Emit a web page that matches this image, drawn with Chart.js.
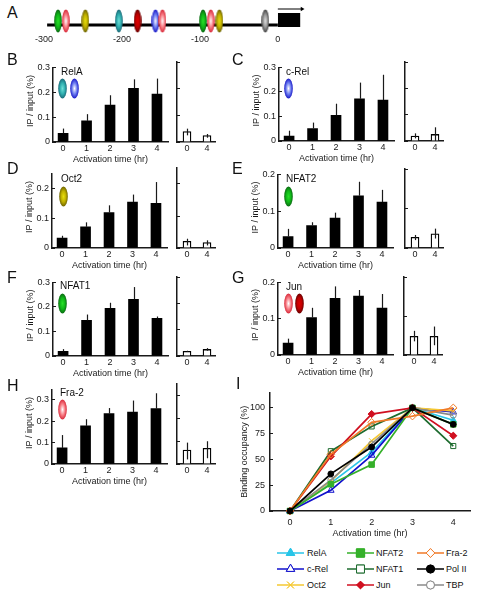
<!DOCTYPE html>
<html><head><meta charset="utf-8">
<script src="https://cdn.jsdelivr.net/npm/chart.js@4"></script>
<style>
html,body{margin:0;padding:0;background:#fff;}
#page{position:relative;width:480px;height:600px;overflow:hidden;font-family:"Liberation Sans",Arial,sans-serif;color:#111;}
#page canvas{position:absolute;}
.letter{position:absolute;font-size:16px;line-height:16px;}
.name{position:absolute;font-size:10px;line-height:12px;}
.leg{position:absolute;font-size:9px;line-height:12px;}
</style></head><body><div id="page"></div>
<script>
// ---- data ----
const hours=[0,1,2,3,4];
const subHours=[0,4];
const siteNames=['NFAT','Fra','Oct','RelA','Jun','cRel','Fra','NFAT','Fra','Oct','TBP'];
const sitePos=[-282,-272,-247,-204,-180,-157,-148,-96,-86,-75,-16];
const promoterTicks=[-300,-200,-100,0];

const bVals=[.035,.085,.148,.216,.193], bHi=[.054,.112,.188,.252,.255];
const bSub=[.039,.024], bSubHi=[.05,.03], bSubLo=[.025,.016];
const cVals=[.02,.051,.105,.172,.167], cHi=[.042,.075,.152,.238,.27];
const cSub=[.019,.025], cSubHi=[.029,.052], cSubLo=[.01,0];
const dVals=[.033,.071,.119,.154,.15], dHi=[.041,.086,.143,.179,.221];
const dSub=[.021,.017], dSubHi=[.029,.024], dSubLo=[.008,.008];
const eVals=[.031,.061,.081,.142,.125], eHi=[.052,.07,.096,.18,.158];
const eSub=[.027,.036], eSubHi=[.033,.049], eSubLo=[.02,.024];
const fVals=[.019,.145,.194,.231,.154], fHi=[.028,.169,.217,.281,.161];
const fSub=[.018,.025], fSubHi=[.02,.03], fSubLo=[.016,.02];
const gVals=[.033,.103,.156,.162,.129], gHi=[.045,.13,.189,.179,.168];
const gSub=[.048,.048], gSubHi=[.062,.073], gSubLo=[.035,.025];
const hVals=[.075,.178,.235,.242,.258], hHi=[.135,.209,.261,.296,.33];
const hSub=[.061,.068], hSubHi=[.093,.099], hSubLo=[.02,.025];

const ticks3=[0,.1,.2,.3], ticks2=[0,.1,.2];

const occNames=['RelA','c-Rel','Oct2','TBP','NFAT2','NFAT1','Jun','Fra-2','Pol II'];
const occRelA=[0,27,57,100,88];
const occCRel=[0,20,54,100,96];
const occOct2=[0,29,68,100,97];
const occTBP=[0,30,65,100,93];
const occNFAT2=[0,26,45,100,84];
const occNFAT1=[0,58,82,100,63];
const occJun=[0,53,94,100,73];
const occFra2=[0,55,86,92,100];
const occPol=[0,36,62,100,84];
const occTicks=[0,25,50,75,100];

// ---- styles ----
const INK='#1a1a1a';
const FONT='"Liberation Sans",Arial,sans-serif';
Chart.defaults.font.family=FONT; Chart.defaults.font.size=9; Chart.defaults.color=INK;
Chart.defaults.animation=false;
const page=document.getElementById('page');

function ellipse(inner,mid,outer,W,H){
  const c=document.createElement('canvas');
  c.width=W;c.height=H;
  const g=c.getContext('2d');
  g.save();g.translate(W/2,H/2);g.scale(1,H/W);
  const r=W/2-.2,grd=g.createRadialGradient(0,0,0,0,0,r);
  grd.addColorStop(0,inner);grd.addColorStop(.55,mid);grd.addColorStop(1,outer);
  g.fillStyle=grd;g.beginPath();g.arc(0,0,r,0,Math.PI*2);g.fill();g.restore();
  return c;
}
const ICON={
  NFAT:['#28e028','#10b818','#0a6a12'],
  Fra:['#ffffff','#f88088','#d82838'],
  Oct:['#e8e010','#c0b000','#6e6400'],
  RelA:['#70e0d8','#30b0b0','#1a6a78'],
  Jun:['#e00000','#c00000','#6a0000'],
  cRel:['#ffffff','#7080f0','#1818c8'],
  TBP:['#e0e0e0','#999999','#444444']
};
const mkIcon=(k,W,H)=>ellipse(...ICON[k],W,H);

function place(c,l,t,w,h){
  c.style.left=l+'px';c.style.top=t+'px';c.style.width=w+'px';c.style.height=h+'px';
  c.width=w;c.height=h;page.appendChild(c);return c;
}
const errPlugin={id:'err',afterDatasetsDraw(ch){
  const g=ch.ctx,ds=ch.data.datasets[0],xs=ch.scales.x,ys=ch.scales.y;
  if(!ds.hi)return;
  g.save();g.strokeStyle=INK;g.lineWidth=1.2;
  ds.data.forEach((p,i)=>{
    const x=Math.round(xs.getPixelForValue(p.x))+.5;
    const lo=ds.lo?ds.lo[i]:p.y;
    g.beginPath();g.moveTo(x,ys.getPixelForValue(lo));g.lineTo(x,ys.getPixelForValue(ds.hi[i]));g.stroke();
  });
  g.restore();
}};
const setTicks=(vals,fmt)=>s=>{s.ticks=vals.map(v=>({value:v,label:fmt?fmt(v):String(v)}));};

function barChart(o){
  const leftW=o.leftW, botH=23, topPad=6, rightPad=4;
  const c=place(document.createElement('canvas'),o.ax-leftW,o.top-topPad,leftW+o.w+rightPad,topPad+(o.zero-o.top)+botH);
  return new Chart(c,{type:'bar',
    data:{datasets:[{data:o.xs.map((x,i)=>({x,y:o.vals[i]})),hi:o.hi,lo:o.lo,
      backgroundColor:o.fill,borderColor:'#000',borderWidth:o.bw,barThickness:o.bar}]},
    plugins:[errPlugin],
    options:{responsive:false,maintainAspectRatio:false,devicePixelRatio:1,
      layout:{autoPadding:false,padding:{top:topPad,right:rightPad,left:0,bottom:0}},
      plugins:{legend:{display:false},tooltip:{enabled:false}},
      scales:{
        x:{type:'linear',min:o.xmin,max:o.xmax,offset:false,
          afterBuildTicks:setTicks(o.xs),
          afterFit:s=>{s.height=botH;},
          border:{color:INK,width:1.5},
          grid:{drawOnChartArea:false,drawTicks:false},
          ticks:{padding:1.5,maxRotation:0,autoSkip:false,font:{size:9},color:INK},
          title:{display:o.xTitle,text:'Activation time (hr)',padding:0,font:{size:9},color:INK}},
        y:{type:'linear',min:0,max:o.ymax,
          afterBuildTicks:setTicks(o.ticks,v=>o.yLabels?String(v):''),
          afterFit:s=>{s.width=leftW;},
          border:{color:INK,width:1.5},
          grid:{drawOnChartArea:false,drawTicks:true,tickLength:-3,tickColor:INK,lineWidth:1},
          ticks:{padding:o.yLabels?6:0,autoSkip:false,font:{size:9},color:INK,display:o.yLabels},
          title:{display:o.yLabels,text:'   IP / input (%)',padding:0,font:{size:9},color:INK}}
      }}});
}
function panel(p){
  barChart({ax:p.ax,top:p.top,zero:p.zero,w:115,ymax:p.ymax,ticks:p.ticks,leftW:28,yLabels:true,xTitle:true,
    xs:hours,vals:p.v,hi:p.hi,fill:'#000',bw:0,bar:10,xmin:-.43,xmax:4.47});
  barChart({ax:p.sx,top:p.top,zero:p.zero,w:38,ymax:p.ymax,ticks:p.ticks,leftW:3,yLabels:false,xTitle:false,
    xs:subHours,vals:p.sv,hi:p.shi,lo:p.slo,fill:'#fff',bw:1.3,bar:8,xmin:-2,xmax:5.6});
}
panel({ax:53,sx:177,top:62,zero:142,ymax:.3,ticks:ticks3,v:bVals,hi:bHi,sv:bSub,shi:bSubHi,slo:bSubLo});
panel({ax:279,sx:405,top:62,zero:141,ymax:.3,ticks:ticks3,v:cVals,hi:cHi,sv:cSub,shi:cSubHi,slo:cSubLo});
panel({ax:52,sx:177,top:168,zero:248,ymax:.25,ticks:ticks2,v:dVals,hi:dHi,sv:dSub,shi:dSubHi,slo:dSubLo});
panel({ax:278,sx:405,top:169,zero:248,ymax:.2,ticks:ticks2,v:eVals,hi:eHi,sv:eSub,shi:eSubHi,slo:eSubLo});
panel({ax:53,sx:177,top:277,zero:356,ymax:.3,ticks:ticks3,v:fVals,hi:fHi,sv:fSub,shi:fSubHi,slo:fSubLo});
panel({ax:278,sx:404,top:277,zero:355,ymax:.2,ticks:ticks2,v:gVals,hi:gHi,sv:gSub,shi:gSubHi,slo:gSubLo});
panel({ax:52,sx:177,top:384,zero:464,ymax:.348,ticks:ticks3,v:hVals,hi:hHi,sv:hSub,shi:hSubHi,slo:hSubLo});

// ---- promoter map A ----
(function(){
  const L=30,T=0,W=290,H=48;
  const c=place(document.createElement('canvas'),L,T,W,H);
  const lineY=0, siteY=4, arrowY=16;
  new Chart(c,{type:'scatter',
    data:{datasets:[
      {type:'scatter',data:sitePos.map(x=>({x,y:siteY})),pointStyle:siteNames.map(k=>mkIcon(k,8,24)),order:0,pointRadius:5,clip:false},
      {type:'line',data:[{x:-296,y:lineY},{x:0,y:lineY}],borderColor:'#000',borderWidth:3,pointRadius:0,order:2},
      {type:'line',data:[{x:0,y:-2},{x:0,y:12},{x:29,y:12},{x:29,y:-2}],borderColor:'#000',backgroundColor:'#000',fill:{value:-2},borderWidth:0,pointRadius:0,order:2},
      {type:'line',data:[{x:0,y:arrowY},{x:31,y:arrowY}],borderColor:'#000',borderWidth:1,
       pointStyle:['line','triangle'],rotation:90,pointRadius:[0,2.5],backgroundColor:'#000',pointBorderWidth:0,order:1}
    ]},
    options:{responsive:false,devicePixelRatio:1,
      layout:{autoPadding:false,padding:0},
      plugins:{legend:{display:false},tooltip:{enabled:false}},
      scales:{
        x:{type:'linear',min:(L-277)/.795,max:(L+W-277)/.795,
          afterBuildTicks:setTicks(promoterTicks),
          afterFit:s=>{s.height=19;},
          border:{display:false},grid:{display:false,drawTicks:false},
          ticks:{padding:5,maxRotation:0,autoSkip:false,font:{size:9},color:INK}},
        y:{min:-4,max:25,display:false}
      }}});
})();

// ---- panel I ----
const occStyles={
 'RelA':{c:'#29c5e8',s:'triangle',f:true,r:3.8,lr:4.8},
 'c-Rel':{c:'#1010cc',s:'triangle',f:false,r:3.8,lr:4.8},
 'Oct2':{c:'#f5c832',s:'crossRot',f:false,r:3.8,lr:4.8},
 'TBP':{c:'#8a8a8a',s:'circle',f:false,r:3,lr:4},
 'NFAT2':{c:'#35b02a',s:'rect',f:true,r:3.9,lr:5.8},
 'NFAT1':{c:'#1d6b2e',s:'rect',f:false,r:3.6,lr:5.6},
 'Jun':{c:'#d01020',s:'rectRot',f:true,r:3.6,lr:3.8},
 'Fra-2':{c:'#f07a28',s:'rectRot',f:false,r:3.8,lr:4.4},
 'Pol II':{c:'#000000',s:'circle',f:true,r:2.9,lr:4}
};
const occVals=[occRelA,occCRel,occOct2,occTBP,occNFAT2,occNFAT1,occJun,occFra2,occPol];
(function(){
  const ax=270,top=383,zero=511,leftW=31,botH=28;
  const c=place(document.createElement('canvas'),ax-leftW,top-4,leftW+200+4,4+(zero-top)+botH);
  new Chart(c,{type:'line',
    data:{labels:hours,datasets:occNames.map((n,i)=>{const st=occStyles[n];return{
      label:n,data:hours.map((h,j)=>({x:h,y:occVals[i][j]})),borderColor:st.c,borderWidth:1.7,
      pointStyle:st.s,pointRadius:st.r,pointBorderColor:st.c,pointBorderWidth:1,
      pointBackgroundColor:st.f?st.c:'rgba(255,255,255,0)',order:occNames.length-i,clip:false};})},
    options:{responsive:false,devicePixelRatio:1,
      layout:{autoPadding:false,padding:{top:4,right:4,left:0,bottom:0}},
      plugins:{legend:{display:false},tooltip:{enabled:false}},
      scales:{
        x:{type:'linear',min:-.49,max:4.41,
          afterBuildTicks:setTicks(hours),afterFit:s=>{s.height=botH;},
          border:{color:INK,width:1.5},grid:{drawOnChartArea:false,drawTicks:false},
          ticks:{padding:6,maxRotation:0,autoSkip:false,font:{size:9},color:INK},
          title:{display:true,text:'Activation time (hr)',padding:0,font:{size:9},color:INK}},
        y:{min:0,max:115,
          afterBuildTicks:setTicks(occTicks),afterFit:s=>{s.width=leftW;},
          border:{color:INK,width:1.5},
          grid:{drawOnChartArea:false,drawTicks:true,tickLength:-3,tickColor:INK,lineWidth:1},
          ticks:{padding:8,autoSkip:false,font:{size:9},color:INK},
          title:{display:true,text:'Binding occupancy (%)',padding:0,font:{size:9},color:INK}}
      }}});
})();

// ---- overlays: letters, protein names, icons, legend ----
[['A',7,5],['B',7,52],['C',232,52],['D',7,161],['E',232,161],['F',7,270],['G',232,270],['H',7,378],['I',236,376]].forEach(([t,x,y])=>{
  const d=document.createElement('div');d.className='letter';d.textContent=t;d.style.left=x+'px';d.style.top=y+'px';page.appendChild(d);
});
[['RelA',61,66],['c-Rel',286,66],['Oct2',61,173],['NFAT2',286,173],['NFAT1',60,280],['Jun',286,281],['Fra-2',60,387]].forEach(([t,x,y])=>{
  const d=document.createElement('div');d.className='name';d.textContent=t;d.style.left=x+'px';d.style.top=y+'px';page.appendChild(d);
});
[['RelA',62,88],['cRel',74,88],['cRel',288,88],['Oct',63,196],['NFAT',288,196],['NFAT',62,303],['Fra',288,303],['Jun',299,303],['Fra',62,409]].forEach(([k,x,y])=>{
  const c=mkIcon(k,9,21);c.style.left=(x-4.5)+'px';c.style.top=(y-10.5)+'px';page.appendChild(c);
});
const legCols=[[277,307,['RelA','c-Rel','Oct2']],[347,376,['NFAT2','NFAT1','Jun']],[417,446,['Fra-2','Pol II','TBP']]];
const legRows=[553,569,585];
legCols.forEach(([x,tx,names])=>names.forEach((n,r)=>{
  const st=occStyles[n],y=legRows[r];
  const c=place(document.createElement('canvas'),x,y-7,27,14);
  const g=c.getContext('2d');
  g.strokeStyle=st.c;g.lineWidth=1.5;g.beginPath();g.moveTo(0,7);g.lineTo(27,7);g.stroke();
  g.lineWidth=1;g.fillStyle=st.f?st.c:'#fff';
  Chart.helpers.drawPoint(g,{pointStyle:st.s,radius:st.lr,rotation:0,borderWidth:1},13.5,7);
  if(n!=='Oct2')g.fill();
  g.stroke();
  const d=document.createElement('div');d.className='leg';d.textContent=n;d.style.left=tx+'px';d.style.top=(y-6.5)+'px';page.appendChild(d);
}));
</script></body></html>
